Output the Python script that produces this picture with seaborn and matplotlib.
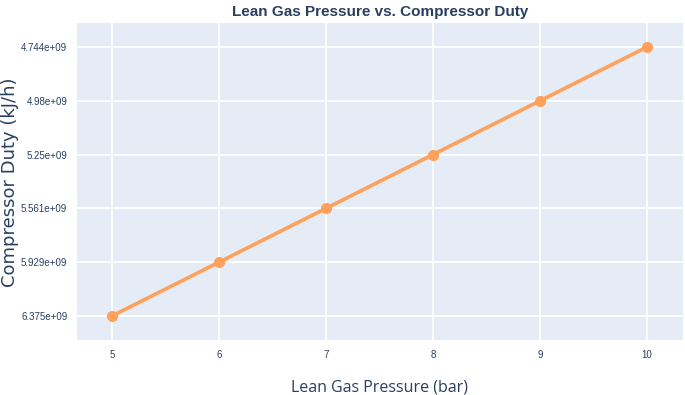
import numpy as np
import pandas as pd
import seaborn as sns
import matplotlib
matplotlib.use("Agg")
import matplotlib.pyplot as plt

# Data
pressure = [5, 6, 7, 8, 9, 10]
duty_labels = ["6.375e+09", "5.929e+09", "5.561e+09", "5.25e+09", "4.98e+09", "4.744e+09"]

# the duty values are plotted as categories (equal spacing, order of appearance)
duty_pos = np.arange(len(duty_labels))
df = pd.DataFrame({"pressure": pressure, "duty": duty_pos})

sns.set_theme()
sns.set_style("darkgrid", {"axes.facecolor": "#E5ECF6", "grid.color": "white"})
plt.rcParams['font.family'] = ['DejaVu Sans']

text_color = "#2a3f5f"
line_color = "#FFA15A"

fig = plt.figure(figsize=(6.85, 3.95), dpi=100)
ax = fig.add_axes([77 / 685, 55 / 395, 606 / 685, 317 / 395])

sns.lineplot(data=df, x="pressure", y="duty", ax=ax, color=line_color,
             linewidth=2.6, marker="o", markersize=8, markeredgewidth=0,
             estimator=None, sort=False)

ax.set_xlim(4.67, 10.34)
ax.set_ylim(-0.45, len(duty_labels) - 1 + 0.45)
ax.set_xticks(pressure)
ax.set_xticklabels([str(p) for p in pressure])
ax.set_yticks(duty_pos)
ax.set_yticklabels(duty_labels)
ax.grid(True, color="white", linewidth=1.3)
for s in ax.spines.values():
  s.set_visible(False)
ax.tick_params(length=0, labelsize=7, colors=text_color, pad=7)
for lab in ax.get_xticklabels() + ax.get_yticklabels():
  lab.set_family(["Liberation Sans", "DejaVu Sans"])

ax.set_xlabel("Lean Gas Pressure (bar)", fontsize=11.5, color=text_color,
              family=["Open Sans", "DejaVu Sans"], labelpad=14)
ax.set_ylabel("")
fig.text(10 / 685, 1 - 182 / 395, "Compressor Duty (kJ/h)", rotation=90,
         ha="center", va="center", fontsize=13, color=text_color,
         family=["DejaVu Sans"])

fig.text(380 / 685, 1 - 12 / 395, "Lean Gas Pressure vs. Compressor Duty",
         ha="center", va="center", fontsize=11, fontweight="bold",
         color=text_color, family=["Liberation Sans", "DejaVu Sans"])

fig.savefig("out.png", dpi=100)
